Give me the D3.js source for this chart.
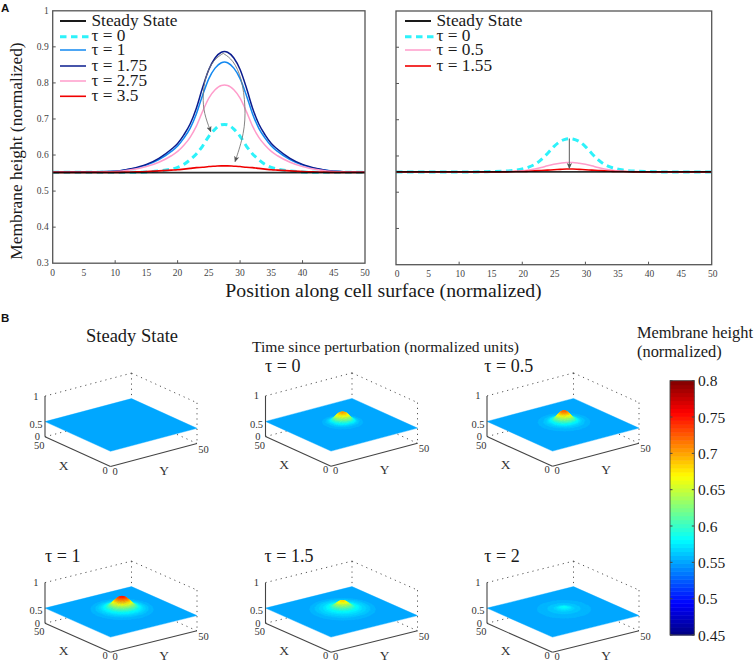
<!DOCTYPE html>
<html><head><meta charset="utf-8">
<script src="https://cdn.jsdelivr.net/npm/d3@7"></script>
<style>html,body{margin:0;background:#fff}svg{display:block}text{font-family:"Liberation Serif",serif}</style>
</head><body><svg id="c" width="755" height="666"></svg>
<script>
// ---------- Panel A data ----------
const positions=[0,5,10,12.5,15,17,19,20,21,22,23,24,25,26,27,27.5,28,29,30,31,32,33,34,35,36,38,40,42.5,45,50];
const xTicks=[0,5,10,15,20,25,30,35,40,45,50];
const xMarks=[10,20,30,40];
const yTicks=[0.3,0.4,0.5,0.6,0.7,0.8,0.9,1];
const leftSteady=[.551,.551,.551,.551,.551,.551,.551,.551,.551,.551,.551,.551,.551,.551,.551,.551,.551,.551,.551,.551,.551,.551,.551,.551,.551,.551,.551,.551,.551,.551];
const leftTau0=[.552,.552,.552,.552,.553,.556,.561,.566,.574,.587,.603,.625,.652,.672,.684,.685,.684,.672,.652,.625,.603,.587,.574,.566,.561,.556,.553,.552,.552,.552];
const leftTau1=[.552,.553,.555,.561,.572,.587,.610,.625,.647,.674,.714,.766,.812,.841,.856,.858,.856,.841,.812,.766,.714,.674,.647,.625,.610,.587,.572,.561,.555,.552];
const leftTau175=[.552,.553,.555,.562,.574,.591,.616,.632,.656,.686,.730,.787,.837,.869,.885,.887,.885,.869,.837,.787,.730,.686,.656,.632,.616,.591,.574,.562,.555,.552];
const leftTau275=[.552,.552,.554,.559,.568,.580,.598,.610,.627,.649,.680,.721,.758,.781,.793,.794,.793,.781,.758,.721,.680,.649,.627,.610,.598,.580,.568,.559,.554,.552];
const leftTau35=[.552,.552,.552,.553,.554,.556,.558,.559,.561,.563,.565,.566,.568,.569,.570,.570,.570,.569,.568,.566,.565,.563,.561,.559,.558,.556,.554,.553,.552,.552];
const rightSteady=[.556,.556,.556,.556,.556,.556,.556,.556,.556,.556,.556,.556,.556,.556,.556,.556,.556,.556,.556,.556,.556,.556,.556,.556,.556,.556,.556,.556,.556,.556];
const rightTau0=[.556,.556,.556,.556,.557,.558,.561,.564,.569,.577,.590,.607,.626,.640,.647,.648,.647,.640,.626,.607,.590,.577,.569,.564,.561,.558,.557,.556,.556,.556];
const rightTau05=[.556,.556,.556,.556,.556,.557,.558,.559,.561,.564,.568,.573,.577,.580,.582,.582,.582,.580,.577,.573,.568,.564,.561,.559,.558,.557,.556,.556,.556,.556];
const rightTau155=[.556,.556,.556,.556,.556,.556,.557,.557,.558,.559,.560,.561,.562,.563,.564,.564,.564,.563,.562,.561,.560,.559,.558,.557,.557,.556,.556,.556,.556,.556];
const arrowLeftX=[27.3,25.7,24.4,24.0,24.2,25.3], arrowLeftY=[.882,.864,.818,.762,.716,.665];
const arrowRightX=[27.3,28.9,30.3,30.9,30.7,29.2], arrowRightY=[.882,.864,.813,.734,.660,.582];
const arrowMidX=[27.46,27.46], arrowMidY=[.648,.566];
const leftLabels=["Steady State","τ = 0","τ = 1","τ = 1.75","τ = 2.75","τ = 3.5"];
const rightLabels=["Steady State","τ = 0","τ = 0.5","τ = 1.55"];
// ---------- Panel B data ----------
const radii=[0,1,2,3,4,5,6,7,8,9,10,12,14,16,18];
const profTau0=[.705,.70,.685,.655,.62,.59,.571,.563,.558,.554,.553,.553,.553,.553,.553];
const profTau05=[.725,.72,.70,.665,.625,.598,.582,.572,.565,.561,.558,.5535,.553,.553,.553];
const profTau1=[.75,.745,.73,.705,.67,.64,.612,.595,.582,.574,.568,.560,.5541,.553,.553];
const profTau15=[.685,.68,.665,.64,.615,.597,.586,.579,.574,.570,.567,.562,.555,.553,.553];
const profTau2=[.585,.582,.577,.572,.567,.564,.562,.560,.559,.558,.557,.554,.553,.553,.553];
const profSteady=[.553,.553,.553,.553,.553,.553,.553,.553,.553,.553,.553,.553,.553,.553,.553];
const panelTitles=["Steady State","τ = 0","τ = 0.5","τ = 1","τ = 1.5","τ = 2"];
const barTicks=[0.45,0.5,0.55,0.6,0.65,0.7,0.75,0.8];
const jetStops=[0,.125,.375,.625,.875,1];
const jetColors=["#000080","#0000ff","#00ffff","#ffff00","#ff0000","#800000"];

const svg=d3.select("#c");
const INK="#1a1a1a",GR="#555";
function txt(x,y,s,size,o={}){
  const t=svg.append("text").attr("x",x).attr("y",y).attr("font-size",size).attr("fill",o.fill||INK).text(s);
  if(o.anchor)t.attr("text-anchor",o.anchor);
  if(o.base)t.attr("dominant-baseline",o.base);
  if(o.font)t.style("font-family",o.font);
  if(o.weight)t.attr("font-weight",o.weight);
  if(o.rot)t.attr("transform",`rotate(${o.rot} ${x} ${y})`);
  return t;
}
svg.append("defs").append("marker").attr("id","ah").attr("viewBox","0 0 8 8").attr("refX",7).attr("refY",4)
  .attr("markerWidth",6).attr("markerHeight",6).attr("markerUnits","userSpaceOnUse").attr("orient","auto")
  .append("path").attr("d","M0,0.5L8,4L0,7.5L2,4Z").attr("fill","#555");

function linePanel(box,series,labels,legX,showY,arrows){
  const x=d3.scaleLinear().domain([0,50]).range([box.l,box.r]);
  const y=d3.scaleLinear().domain([.3,1]).range([box.b,box.t]);
  const g=svg.append("g");
  const line=d3.line().x((d,i)=>x(positions[i])).y(d=>y(d)).curve(d3.curveMonotoneX);
  // dashed curve first, then solids, then the black steady line over their flat tails
  const order=[series[1],...series.slice(2),series[0]];
  order.forEach(s=>{
    g.append("path").attr("d",line(s.v)).attr("fill","none").attr("stroke",s.c).attr("stroke-width",s.w)
      .attr("stroke-dasharray",s.dash||null).attr("stroke-opacity",s===series[0]?.82:1);
  });
  const al=d3.line().x(d=>x(d[0])).y(d=>y(d[1])).curve(d3.curveBasis);
  arrows.forEach(a=>{
    g.append("path").attr("d",(a.straight?d3.line().x(d=>x(d[0])).y(d=>y(d[1])):al)(d3.zip(a.x,a.y)))
      .attr("fill","none").attr("stroke","#777").attr("stroke-width",a.straight?1.2:.9).attr("marker-end","url(#ah)");
  });
  g.append("rect").attr("x",box.l).attr("y",box.t).attr("width",box.r-box.l).attr("height",box.b-box.t)
    .attr("fill","none").attr("stroke",GR).attr("stroke-width",1.3);
  xMarks.forEach(v=>g.append("line").attr("x1",x(v)).attr("x2",x(v)).attr("y1",box.b).attr("y2",box.b-3).attr("stroke",GR));
  yTicks.slice(1,-1).forEach(v=>g.append("line").attr("x1",box.l).attr("x2",box.l+3).attr("y1",y(v)).attr("y2",y(v)).attr("stroke",GR));
  xTicks.forEach(v=>txt(x(v)+(box.nudge||0),box.tb,v,9.5,{anchor:"middle",fill:"#444"}));
  if(showY)yTicks.forEach(v=>txt(box.l-4,y(v)+3,v,9.5,{anchor:"end",fill:"#444"}));
  // legend
  const ly=[21,36.7,50,66,81,96.3], by=[25.5,40.5,55,70.5,86,101];
  labels.forEach((s,i)=>{
    const st=series[i];
    g.append("line").attr("x1",legX).attr("x2",legX+(i==1?32:26)).attr("y1",ly[i]).attr("y2",ly[i])
      .attr("stroke",st.c).attr("stroke-width",st.w).attr("stroke-dasharray",st.dash||null);
    txt(legX+31.5,by[i],s,17.3);
  });
}
const CY="#2ef2fa",BL="#1288f0",NV="#0a1c8e",PK="#ff9ccb",RD="#f00000";
linePanel({l:52.7,r:365,t:10.8,b:263.2,tb:276.2},[
  {v:leftSteady,c:"#000",w:1.8},
  {v:leftTau0,c:CY,w:3,dash:"6.5,4.5"},
  {v:leftTau1,c:BL,w:1.5},
  {v:leftTau175,c:NV,w:1.5},
  {v:leftTau275,c:PK,w:1.5},
  {v:leftTau35,c:RD,w:1.6}],leftLabels,60,true,[
  {x:arrowLeftX,y:arrowLeftY},{x:arrowRightX,y:arrowRightY}]);
linePanel({l:396,r:711.7,t:11,b:264.7,tb:276.5,nudge:1},[
  {v:rightSteady,c:"#000",w:1.8},
  {v:rightTau0,c:CY,w:3,dash:"6.5,4.5"},
  {v:rightTau05,c:PK,w:1.5},
  {v:rightTau155,c:RD,w:1.6}],rightLabels,405,false,[
  {x:arrowMidX,y:arrowMidY,straight:true}]);

txt(22,151,"Membrane height (normalized)",17.4,{anchor:"middle",rot:-90});
txt(383.5,296.5,"Position along cell surface (normalized)",19.8,{anchor:"middle"});
const sans='"Liberation Sans",sans-serif';
txt(1,12,"A",11.5,{font:sans,weight:700,fill:"#111"});
txt(1,322,"B",11.5,{font:sans,weight:700,fill:"#111"});
txt(252,352,"Time since perturbation (normalized units)",15.6);
txt(637,338,"Membrane height",16.4);
txt(637,357,"(normalized)",16.4);

// ---------- Jet colours ----------
const jet=d3.scaleLinear().domain(jetStops).range(jetColors).interpolate(d3.interpolateRgb);
const levels=d3.range(64).map(i=>jet((i+.5)/64));
const valueColor=d3.scaleQuantize().domain([.45,.8]).range(levels);

// ---------- 3D panels ----------
const zPx=d3.scaleLinear().domain([0,.55,.8,1]).range([0,15,31,40.7]);
function surface(o){
  const F=o.front, vX=[-65.5,-o.dxy], vY=[86.5,-o.dyy];
  const P=(X,Y,z)=>[F[0]+vX[0]*X/50+vY[0]*Y/50, F[1]+vX[1]*X/50+vY[1]*Y/50-zPx(z)];
  const g=svg.append("g");
  const seg=(a,b,st,dash,w)=>g.append("line").attr("x1",a[0]).attr("y1",a[1]).attr("x2",b[0]).attr("y2",b[1])
     .attr("stroke",st).attr("stroke-width",w||1).attr("stroke-dasharray",dash||null);
  const dot="1.2,4";
  seg(P(50,0,1),P(50,50,1),"#555",dot);
  seg(P(50,50,1),P(0,50,1),"#555",dot);
  seg(P(50,50,1),P(50,50,.55),"#555",dot);
  seg(P(0,50,1),P(0,50,0),"#555",dot);
  seg(P(50,0,0),P(50,50,0),"#555",dot);
  seg(P(0,50,0),P(50,50,0),"#555",dot);
  const prof=d3.scaleLinear().domain(radii).range(o.profile).clamp(true);
  const base=o.profile[o.profile.length-1];
  const pathOf=pts=>"M"+pts.map(p=>p[0].toFixed(2)+","+p[1].toFixed(2)).join("L")+"Z";
  const corners=[P(0,0,base),P(50,0,base),P(50,50,base),P(0,50,base)];
  g.append("path").attr("d",pathOf(corners)).attr("fill",valueColor(base)).attr("stroke",valueColor(base)).attr("stroke-width",.4);
  const cx=27.5,cy=27.5,H=(X,Y)=>prof(Math.hypot(X-cx,Y-cy));
  if(o.profile!==profSteady){
    const R=17,s=.5;
    for(let X=45;X>=10;X-=s)for(let Y=45;Y>=10;Y-=s){
      if(Math.hypot(X+s/2-cx,Y+s/2-cy)>R)continue;
      const c=valueColor((H(X,Y)+H(X+s,Y)+H(X,Y+s)+H(X+s,Y+s))/4);
      if(c===valueColor(base))continue;
      g.append("path").attr("d",pathOf([P(X,Y,H(X,Y)),P(X+s,Y,H(X+s,Y)),P(X+s,Y+s,H(X+s,Y+s)),P(X,Y+s,H(X,Y+s))]))
        .attr("fill",c).attr("stroke",c).attr("stroke-width",.3);
    }
  }
  seg(P(50,0,0),P(50,0,1),"#444",null,1.1);
  seg(P(0,0,0),P(50,0,0),"#444",null,1.1);
  seg(P(0,0,0),P(0,50,0),"#444",null,1.1);
  const L=P(50,0,0),O=P(0,0,0),Rr=P(0,50,0),T=P(50,0,1);
  const tk={anchor:"middle",fill:"#333",base:"central"};
  txt(L[0]-6.5,T[1],"1",10.5,{...tk,anchor:"end"});
  txt(L[0]-2.5,L[1]-12.5,"0.5",10.5,{...tk,anchor:"end"});
  txt(L[0]-5,L[1],"0",10.5,{...tk,anchor:"end"});
  txt(L[0]-5.7,L[1]+8.5,"50",10.5,tk);
  txt(O[0]-5.5,O[1]+3.5,"0",10.5,tk);
  txt(O[0]+4.5,O[1]+4.5,"0",10.5,tk);
  txt(Rr[0]+6.5,Rr[1]+5.5,"50",10.5,tk);
  txt(O[0]-47,O[1]-1.5,"X",13.5,tk);
  txt(O[0]+53.5,O[1]+3.5,"Y",13.5,tk);
  txt(o.tx,o.ty,o.title,o.ts,{anchor:o.ta});
}
const profiles=[profSteady,profTau0,profTau05,profTau1,profTau15,profTau2];
const fronts=[[110.5,466.5],[331,466.3],[552.5,466.3],[110.5,652.3],[331,652.3],[552.5,652.3]];
const titleX=[132,265,484.3,45,264.5,484.3], titleY=[342,371.7,371.7,562,562,562];
panelTitles.forEach((t,i)=>surface({front:fronts[i],profile:profiles[i],dxy:i<3?29.7:29,dyy:i<3?23:21.5,
  title:t,tx:titleX[i],ty:titleY[i],ts:i==0?18.5:18,ta:i==0?"middle":"start"}));

// ---------- Colour bar ----------
const barY=d3.scaleLinear().domain([.45,.8]).range([635,380.7]);
const barX=[670,694.3];
levels.forEach((c,i)=>{
  const v0=.45+.35*i/64,v1=.45+.35*(i+1)/64;
  svg.append("rect").attr("x",barX[0]).attr("width",barX[1]-barX[0]).attr("y",barY(v1)).attr("height",barY(v0)-barY(v1)+.5).attr("fill",c);
});
svg.append("rect").attr("x",barX[0]).attr("y",barY(.8)).attr("width",barX[1]-barX[0]).attr("height",barY(.45)-barY(.8))
  .attr("fill","none").attr("stroke","#444").attr("stroke-width",.9);
barTicks.forEach(v=>{
  [[barX[0],barX[0]+2.5],[barX[1],barX[1]-2.5]].forEach(p=>svg.append("line").attr("x1",p[0]).attr("x2",p[1]).attr("y1",barY(v)).attr("y2",barY(v)).attr("stroke","#444"));
  txt(698,barY(v)+5.5,v,15.5);
});
</script></body></html>
